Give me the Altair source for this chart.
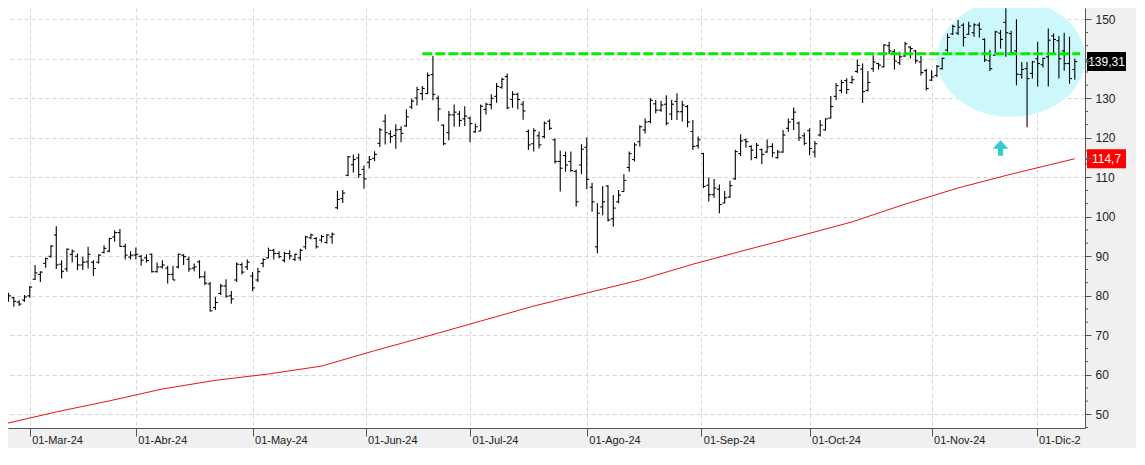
import altair as alt
import pandas as pd

# ---- OHLC values (one bar per trading day) ----
highs = [82.7, 80.8, 79.7, 78.9, 80.2, 82.5, 87.8, 86.2, 89.7, 92.8,
         97.6, 89.0, 92.0, 91.7, 90.7, 89.9, 92.4, 89.0, 90.5, 92.8,
         94.7, 96.6, 96.9, 93.2, 91.3, 92.2, 90.3, 90.5, 90.7, 88.4,
         89.0, 87.6, 87.6, 90.7, 90.5, 89.9, 88.2, 89.0, 86.2, 83.5,
         79.7, 83.0, 84.2, 81.2, 88.4, 88.4, 89.2, 86.0, 87.1, 89.5,
         92.2, 91.9, 91.3, 91.1, 91.5, 90.7, 91.9, 95.2, 95.8, 94.9,
         95.4, 95.6, 96.0, 106.5, 106.8, 115.4, 115.8, 116.0, 113.0, 115.4,
         116.6, 122.5, 125.9, 121.9, 123.4, 122.9, 127.2, 129.9, 132.9, 133.1,
         136.5, 140.8, 130.7, 123.4, 126.8, 128.4, 126.8, 128.0, 125.3, 123.6,
         128.4, 128.9, 131.0, 133.9, 135.2, 136.3, 131.8, 131.4, 129.3, 122.1,
         122.4, 121.6, 124.1, 124.7, 119.9, 116.7, 116.5, 116.5, 112.0, 118.4,
         120.1, 108.6, 103.4, 107.8, 108.0, 105.5, 106.8, 110.8, 116.5, 118.8,
         123.2, 124.9, 130.0, 129.6, 129.4, 130.8, 129.6, 131.3, 129.4, 128.3,
         124.5, 120.3, 116.2, 110.0, 109.6, 108.2, 106.5, 109.1, 117.0, 120.9,
         119.8, 118.1, 118.7, 117.3, 119.6, 118.6, 117.0, 122.0, 124.9, 127.7,
         124.1, 121.3, 122.4, 119.2, 124.5, 124.9, 130.6, 133.9, 134.7, 135.1,
         135.7, 139.8, 138.8, 136.9, 140.9, 139.0, 143.7, 144.3, 142.4, 141.8,
         144.3, 143.2, 142.2, 140.7, 137.5, 137.1, 138.4, 140.3, 146.4, 148.6,
         149.8, 149.0, 149.4, 149.0, 149.2, 145.2, 142.2, 147.1, 147.3, 152.8,
         147.1, 150.0, 139.2, 139.2, 139.5, 144.3, 140.3, 147.7, 146.4, 145.8,
         146.6, 145.6, 140.1]
lows = [77.8, 78.5, 77.2, 77.4, 78.5, 79.5, 84.0, 83.5, 87.1, 89.6,
        86.8, 84.4, 86.1, 88.4, 86.5, 86.5, 86.9, 85.0, 88.2, 90.7,
        91.0, 93.7, 92.4, 89.2, 89.2, 89.2, 87.6, 88.4, 85.9, 85.9,
        86.9, 83.1, 84.0, 86.9, 87.8, 86.1, 86.2, 84.4, 82.7, 76.0,
        76.4, 80.2, 79.5, 78.0, 83.5, 85.4, 86.5, 81.2, 83.5, 87.2,
        89.5, 89.2, 89.5, 88.4, 89.2, 88.8, 88.9, 91.8, 94.3, 92.0,
        93.5, 93.2, 93.2, 101.9, 103.5, 110.3, 111.2, 109.9, 107.1, 112.2,
        114.1, 117.7, 118.3, 118.7, 117.2, 118.9, 122.8, 127.3, 128.2, 129.5,
        131.0, 129.5, 124.2, 118.1, 119.4, 122.8, 122.8, 123.0, 118.9, 121.3,
        121.7, 125.9, 127.2, 128.9, 132.4, 127.2, 127.6, 127.2, 124.6, 116.9,
        116.5, 117.3, 119.9, 122.0, 113.5, 106.4, 111.4, 111.4, 102.6, 110.8,
        107.0, 101.3, 90.8, 100.4, 98.8, 97.5, 103.4, 106.4, 111.4, 114.0,
        117.8, 121.1, 123.7, 126.2, 126.6, 123.2, 124.5, 124.5, 124.1, 122.7,
        116.9, 117.3, 107.3, 103.9, 104.8, 100.9, 103.4, 104.8, 109.4, 115.3,
        117.5, 114.3, 114.7, 113.3, 116.2, 115.1, 114.7, 116.2, 121.5, 122.0,
        119.2, 118.1, 115.6, 115.0, 120.3, 121.8, 124.9, 129.6, 131.3, 131.1,
        133.7, 136.4, 128.8, 131.7, 136.7, 137.3, 137.8, 141.2, 137.3, 138.4,
        140.5, 140.1, 138.8, 135.8, 132.0, 134.4, 135.4, 137.3, 141.8, 146.0,
        146.0, 143.1, 146.0, 145.6, 145.4, 139.2, 136.9, 140.9, 142.6, 140.5,
        140.9, 133.3, 135.0, 122.7, 135.0, 133.0, 137.8, 133.0, 141.5, 135.0,
        137.0, 133.7, 134.7]
opens = [81.5, 79.2, 79.5, 78.4, 78.9, 80.0, 84.2, 85.4, 88.2, 90.0,
         95.4, 88.0, 86.8, 90.5, 90.0, 87.8, 88.6, 88.5, 88.5, 91.0,
         91.3, 94.9, 96.0, 92.5, 89.8, 90.3, 90.0, 89.6, 90.5, 86.1,
         87.3, 87.0, 85.4, 87.3, 90.3, 89.2, 87.0, 88.6, 84.8, 83.0,
         77.0, 80.6, 82.5, 80.0, 84.0, 87.9, 87.3, 85.0, 84.0, 88.2,
         89.6, 91.5, 90.7, 89.0, 90.7, 89.2, 89.6, 92.4, 94.7, 94.5,
         94.1, 93.5, 94.9, 102.3, 104.6, 110.5, 113.2, 114.9, 112.0, 113.8,
         114.8, 118.6, 124.2, 121.0, 120.6, 122.1, 123.0, 127.8, 130.1, 131.2,
         131.2, 136.0, 130.0, 123.2, 121.3, 125.8, 126.0, 124.8, 125.0, 121.5,
         121.7, 127.2, 128.4, 130.5, 132.8, 135.5, 129.7, 131.0, 128.5, 121.6,
         118.5, 120.5, 120.3, 124.2, 119.5, 114.0, 115.5, 114.0, 111.5, 113.1,
         117.6, 107.5, 92.4, 102.5, 107.8, 99.5, 103.8, 106.4, 112.5, 114.5,
         119.0, 122.0, 124.1, 128.6, 127.0, 128.5, 126.0, 129.2, 126.6, 127.9,
         121.6, 118.0, 116.0, 108.0, 105.6, 107.0, 103.5, 105.0, 109.6, 116.0,
         119.5, 117.8, 115.0, 117.0, 116.4, 117.8, 115.0, 116.4, 122.4, 124.7,
         123.7, 120.5, 121.8, 116.4, 120.7, 122.0, 125.0, 130.5, 132.0, 134.5,
         134.0, 136.8, 137.4, 132.0, 137.5, 138.8, 138.0, 143.3, 141.8, 139.0,
         140.7, 143.0, 142.0, 139.2, 137.0, 134.6, 135.8, 137.5, 142.2, 146.3,
         146.5, 148.5, 146.2, 146.6, 148.5, 144.9, 139.5, 140.9, 146.5, 149.2,
         146.4, 142.0, 136.0, 137.5, 136.3, 140.0, 138.5, 140.5, 145.8, 144.6,
         142.0, 138.8, 137.3]
closes = [79.0, 80.0, 78.6, 77.9, 79.7, 82.2, 85.8, 86.0, 89.4, 92.6,
          87.8, 86.2, 91.8, 91.3, 87.8, 88.5, 90.5, 86.9, 90.3, 92.0,
          94.5, 96.0, 92.5, 90.3, 90.3, 90.5, 89.0, 88.9, 86.1, 87.3,
          87.8, 85.4, 84.0, 90.5, 89.9, 86.8, 87.3, 84.8, 83.2, 76.2,
          78.3, 82.5, 79.9, 79.2, 88.0, 86.0, 88.5, 82.0, 86.1, 89.2,
          91.5, 90.7, 89.9, 90.7, 90.1, 90.5, 91.5, 94.9, 95.4, 92.4,
          95.0, 95.4, 95.6, 104.4, 106.0, 115.2, 114.5, 110.7, 109.6, 114.5,
          115.8, 122.0, 121.3, 120.3, 122.0, 121.1, 125.3, 129.3, 132.2, 132.5,
          135.8, 131.0, 127.3, 118.5, 125.8, 126.5, 124.4, 125.5, 123.6, 122.8,
          128.0, 128.5, 130.0, 133.0, 134.8, 127.6, 131.0, 129.7, 126.8, 118.2,
          121.8, 118.2, 123.7, 122.4, 114.0, 112.3, 113.1, 111.7, 103.8, 117.1,
          109.5, 103.8, 100.9, 103.8, 99.2, 102.2, 105.5, 109.2, 116.0, 118.2,
          122.8, 124.0, 129.5, 127.0, 128.3, 123.7, 128.5, 126.6, 128.3, 124.0,
          117.8, 119.5, 107.7, 105.6, 107.3, 103.1, 104.8, 107.9, 116.5, 119.2,
          119.0, 116.9, 118.1, 115.8, 117.7, 116.2, 116.4, 120.7, 124.0, 126.5,
          120.0, 118.6, 117.3, 118.5, 123.2, 124.8, 127.9, 133.2, 134.0, 132.2,
          134.7, 138.3, 131.7, 134.0, 139.2, 138.4, 143.5, 142.0, 139.4, 140.5,
          143.8, 142.6, 139.5, 136.5, 132.5, 135.4, 138.1, 140.1, 145.4, 148.2,
          148.0, 145.4, 148.3, 148.6, 147.5, 139.7, 137.5, 146.8, 144.9, 146.6,
          141.5, 136.1, 137.3, 135.0, 139.2, 138.8, 140.1, 144.7, 144.9, 140.0,
          138.8, 135.0, 139.31]

# ---- long moving average (red line), sampled every 10 bars ----
ma_index = [0, 10, 20, 30, 40, 50, 60, 70, 80, 90, 100, 110, 120, 130, 140,
            150, 160, 170, 180, 190, 202]
ma_value = [47.5, 50.6, 53.4, 56.4, 58.6, 60.2, 62.2, 66.1, 69.8, 73.6, 77.4,
            80.7, 84.0, 88.0, 91.6, 95.1, 98.7, 103.2, 107.3, 110.8, 114.7]

# ---- axis ticks ----
month_pos = [5, 25, 47, 68.3, 88, 110, 131.6, 152, 175, 194.8]
month_labels = ["01-Mar-24", "01-Abr-24", "01-May-24", "01-Jun-24", "01-Jul-24",
                "01-Ago-24", "01-Sep-24", "01-Oct-24", "01-Nov-24", "01-Dic-2"]
y_ticks = [50, 60, 70, 80, 90, 100, 110, 120, 130, 140, 150]
y_hidden_label = 140   # covered by the last-price box in the reference
y_minor = [46.67, 53.33, 56.67, 63.33, 66.67, 73.33, 76.67, 83.33, 86.67,
           93.33, 96.67, 103.33, 106.67, 113.33, 116.67, 123.33, 126.67,
           133.33, 136.67, 143.33, 146.67]

# ---- annotations ----
resist_start, resist_end, resist_level = 79, 203, 141.3
zone_index, zone_level = 190, 140.1
arrow_index, arrow_level = 188, 117.4
price_values = [139.31, 114.7]
price_texts = ["139,31", "114,7"]
price_colors = ["black", "#ff0000"]

bars = pd.DataFrame({"i": list(range(len(highs))), "o": opens, "h": highs,
                     "l": lows, "c": closes})
bars["il"] = bars["i"] - 0.45
bars["ir"] = bars["i"] + 0.45
ma_df = pd.DataFrame({"i": ma_index, "v": ma_value})
res_df = pd.DataFrame({"i": [resist_start], "i2": [resist_end], "v": [resist_level]})
zone_df = pd.DataFrame({"i": [zone_index], "v": [zone_level]})
arrow_df = pd.DataFrame({"i": [arrow_index], "v": [arrow_level]})
minor_df = pd.DataFrame({"v": y_minor})
price_df = pd.DataFrame({"v": price_values, "t": price_texts, "col": price_colors})

W, H = 1077, 420
FONT = "Liberation Sans"
xscale = alt.Scale(domain=[0.9, 203.92], nice=False, zero=False)
yscale = alt.Scale(domain=[46.53, 152.86], nice=False, zero=False)

label_expr = ("[" + ",".join("'" + s + "'" for s in month_labels) + "][indexof(["
              + ",".join(str(p) for p in month_pos) + "], datum.value)]")

xaxis = alt.Axis(values=month_pos, labelExpr=label_expr, labelAlign="left",
                 labelBaseline="top", labelOffset=2, labelPadding=-2,
                 labelFlush=False, labelOverlap=False, tickSize=8,
                 tickColor="#555555", domainColor="#555555", labelColor="#222222",
                 labelFont=FONT, labelFontSize=11, grid=True, gridColor="#d6d6d6",
                 gridDash=[4, 3], title=None)
yaxis = alt.Axis(orient="right", values=y_ticks, tickSize=6, tickColor="#555555",
                 domainColor="#555555", labelColor="#222222", labelFont=FONT,
                 labelFontSize=12, labelPadding=4, grid=True, gridColor="#d6d6d6",
                 gridDash=[4, 3], title=None, labelOverlap=False,
                 labelExpr="datum.value == %d ? '' : datum.label" % y_hidden_label)


def X(f):
    return alt.X(f + ":Q", scale=xscale, axis=xaxis, title=None)


def Y(f):
    return alt.Y(f + ":Q", scale=yscale, axis=yaxis, title=None)


ellipse_path = "M-1,0 A1,0.79 0 1,0 1,0 A1,0.79 0 1,0 -1,0 Z"
up_arrow_path = "M0,-1 L1,0.1 L0.33,0.1 L0.33,1 L-0.33,1 L-0.33,0.1 L-1,0.1 Z"
box_path = "M-1,-0.487 L1,-0.487 L1,0.487 L-1,0.487 Z"
left_arrow_path = "M1,0 L-1,0 M-0.3,-0.6 L-1,0 L-0.3,0.6"

zone = alt.Chart(zone_df).mark_point(
    shape=ellipse_path, size=21904, filled=True, color="#ccf8fc", opacity=1,
    strokeWidth=0, clip=True).encode(x=X("i"), y=Y("v"))

ma = alt.Chart(ma_df).mark_line(color="#ee1111", strokeWidth=1, clip=True).encode(
    x=X("i"), y=Y("v"))

hl = alt.Chart(bars).mark_rule(color="black", strokeWidth=1.1, clip=True).encode(
    x=X("i"), y=Y("h"), y2="l")
op = alt.Chart(bars).mark_rule(color="black", strokeWidth=1.1, clip=True).encode(
    x=X("il"), x2="i", y=Y("o"))
cl = alt.Chart(bars).mark_rule(color="black", strokeWidth=1.1, clip=True).encode(
    x=X("i"), x2="ir", y=Y("c"))

green = alt.Chart(res_df).mark_rule(color="#00ee00", strokeWidth=3,
                                    strokeDash=[10, 3], clip=True).encode(
    x=X("i"), x2="i2", y=Y("v"))

arrow = alt.Chart(arrow_df).mark_point(
    shape=up_arrow_path, size=240, filled=True, color="#33cccc", opacity=1,
    strokeWidth=0).encode(x=X("i"), y=Y("v"))

minor = alt.Chart(minor_df).mark_rule(color="#555555", strokeWidth=1).encode(
    x=alt.value(W), x2=alt.value(W + 3), y=Y("v"))

boxes = alt.Chart(price_df).mark_point(
    shape=box_path, size=1521, filled=True, opacity=1, strokeWidth=0).encode(
    x=alt.value(W + 21.5), y=Y("v"), color=alt.Color("col:N", scale=None))

texts = alt.Chart(price_df).mark_text(
    color="white", font=FONT, fontSize=12, align="center", baseline="middle").encode(
    x=alt.value(W + 21.5), y=Y("v"), text="t:N")

small_arrows = alt.Chart(price_df).mark_point(
    shape=left_arrow_path, size=64, filled=False, color="#666666", strokeWidth=1,
    opacity=1).encode(x=alt.value(W + 5), y=Y("v"))

chart = alt.layer(zone, ma, hl, op, cl, green, arrow, minor, boxes, texts,
                  small_arrows).properties(
    width=W, height=H, background="#f0f0f0",
    padding={"left": 0, "top": 0, "right": 10, "bottom": 3},
).configure_view(fill="white", strokeWidth=0)

chart.save("out.html", embed_options={"renderer": "svg", "actions": False})
